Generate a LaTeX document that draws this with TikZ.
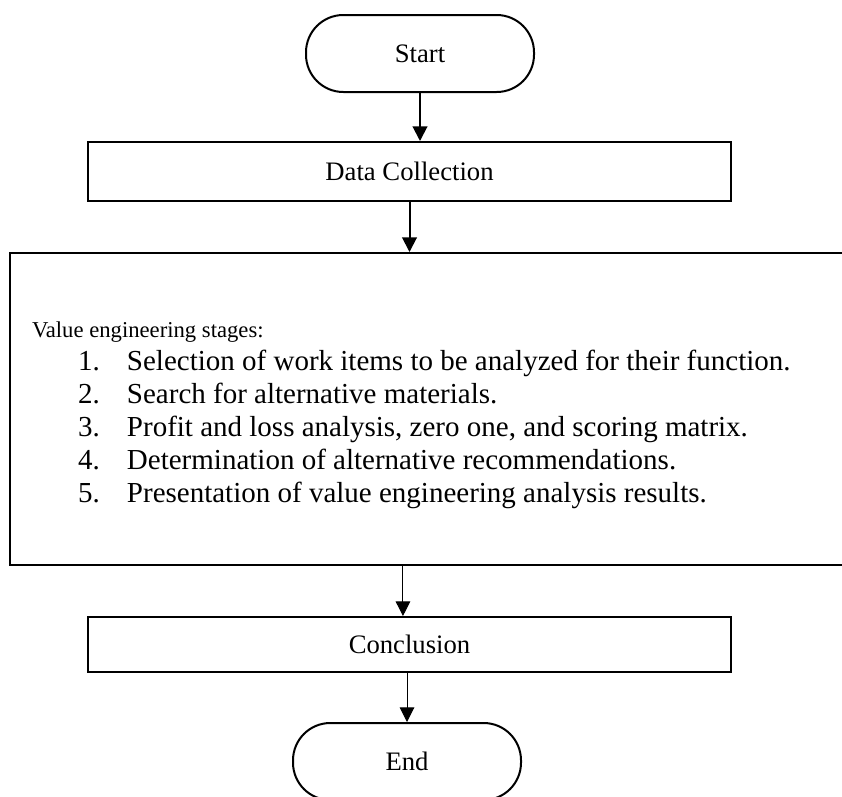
\documentclass[tikz,border=0pt]{standalone}
\usepackage{fontspec}
\setmainfont{Liberation Serif}
\usetikzlibrary{positioning,arrows.meta,calc}
\tikzset{
  blk/.style    = {draw, line width=1.5pt, align=center,
                   font=\fontsize{20}{24}\selectfont, inner sep=0pt},
  term/.style   = {blk, rounded corners=28pt, minimum width=171pt,
                   minimum height=57.75pt},
  rec/.style    = {blk, minimum width=482.25pt},
  stagebox/.style = {blk, align=flush left, minimum width=645pt, minimum height=234pt,
                   text width=612pt, inner xsep=16.5pt,
                   font=\fontsize{21.75}{24.75}\selectfont},
  ar/.style     = {-{Triangle[length=11pt,width=11pt]}, line width=1.5pt},
  arthin/.style = {ar, line width=0.75pt},
}
\newcommand{\stageitem}[2]{\hspace*{34.5pt}\makebox[36.75pt][l]{#1}#2}

\begin{document}
\begin{tikzpicture}[x=0.75pt, y=-0.75pt]
\useasboundingbox (0,0) rectangle (842,796);
\clip (0,0) rectangle (842,796);

\node[term] (start) at (420,53.5) {Start};

\node[rec, minimum height=44.25pt] (data) at (409.5,171.5) {Data Collection};

\node[stagebox] (stages) at (440,409)
     {\rule{0pt}{21pt}{\fontsize{17}{24.75}\selectfont Value engineering stages:}\\
      \stageitem{1.}{Selection of work items to be analyzed for their function.}\\
      \stageitem{2.}{Search for alternative materials.}\\
      \stageitem{3.}{Profit and loss analysis, zero one, and scoring matrix.}\\
      \stageitem{4.}{Determination of alternative recommendations.}\\
      \stageitem{5.}{Presentation of value engineering analysis results.}};

\node[rec, minimum height=41.25pt] (concl) at (409.5,644.5) {Conclusion};

\node[term] (end) at (407,761.5) {End};

\draw[ar] (start.south) -- (start.south |- data.north);
\draw[ar] (data.south) -- (data.south |- stages.north);
\draw[arthin] ([xshift=-4.9pt]concl.north |- stages.south) -- ([xshift=-4.9pt]concl.north);
\draw[arthin] (end.north |- concl.south) -- (end.north);
\end{tikzpicture}
\end{document}
